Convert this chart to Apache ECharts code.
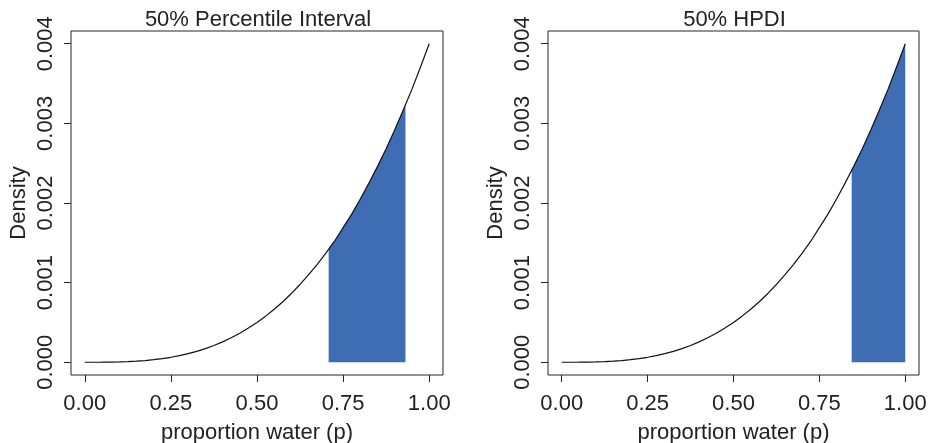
<!DOCTYPE html>
<html>
<head>
<meta charset="utf-8">
<script src="https://cdn.jsdelivr.net/npm/echarts@6/dist/echarts.min.js"></script>
<style>
html,body{margin:0;padding:0;background:#fff;}
#c{width:929px;height:443px;}
</style>
</head>
<body>
<div id="c"></div>
<script>
// Data
const titles = ["50% Percentile Interval", "50% HPDI"];
const xAxisName = "proportion water (p)";
const yAxisName = "Density";
const xTicks = [0, 0.25, 0.5, 0.75, 1.0];
const yTicks = [0, 0.001, 0.002, 0.003, 0.004];

const pGrid = [0, 0.025, 0.05, 0.075, 0.1, 0.125, 0.15, 0.175, 0.2, 0.225, 0.25,
               0.275, 0.3, 0.325, 0.35, 0.375, 0.4, 0.425, 0.45, 0.475, 0.5,
               0.525, 0.55, 0.575, 0.6, 0.625, 0.65, 0.675, 0.7, 0.725, 0.75,
               0.775, 0.8, 0.825, 0.85, 0.875, 0.9, 0.925, 0.95, 0.975, 1.0];
const density = [0, 0.0000001, 0.0000005, 0.0000017, 0.000004, 0.0000078, 0.0000135, 0.0000214, 0.000032, 0.0000456, 0.0000625,
                 0.0000832, 0.000108, 0.000137, 0.000172, 0.000211, 0.000256, 0.000307, 0.000365, 0.000429, 0.0005,
                 0.000579, 0.000666, 0.00076, 0.000864, 0.000977, 0.0011, 0.00123, 0.00137, 0.00152, 0.00169,
                 0.00186, 0.00205, 0.00225, 0.00246, 0.00268, 0.00292, 0.00317, 0.00343, 0.00371, 0.004];

// 50% percentile interval shading
const piP = [0.708, 0.725, 0.75, 0.775, 0.8, 0.825, 0.85, 0.875, 0.9, 0.925, 0.931];
const piD = [0.00142, 0.00152, 0.00169, 0.00186, 0.00205, 0.00225, 0.00246, 0.00268, 0.00292, 0.00317, 0.00323];

// 50% HPDI shading
const hpdiP = [0.844, 0.85, 0.875, 0.9, 0.925, 0.95, 0.975, 1.0];
const hpdiD = [0.00241, 0.00246, 0.00268, 0.00292, 0.00317, 0.00343, 0.00371, 0.004];

const pairs = (xs, ys) => xs.map((x, i) => [x, ys[i]]);

const FONT = "Liberation Sans";
const TXT = "#222";
const LINE = "#262626";
const FILL = "#3e6db4";

const grids = [
  {left: 71, top: 31, width: 372, height: 344},
  {left: 548, top: 31, width: 371, height: 344}
];

function xAx(i) {
  return {
    type: 'value', gridIndex: i, min: -0.04, max: 1.04,
    name: xAxisName, nameLocation: 'middle', nameGap: 47,
    nameTextStyle: {fontFamily: FONT, fontSize: 22, color: TXT},
    axisLine: {show: false, onZero: false},
    splitLine: {show: false},
    axisTick: {show: true, inside: false, length: 7, customValues: xTicks, lineStyle: {color: LINE, width: 1}},
    axisLabel: {customValues: xTicks, margin: 18, fontFamily: FONT, fontSize: 22, color: TXT,
                formatter: v => v.toFixed(2)}
  };
}
function yAx(i) {
  return {
    type: 'value', gridIndex: i, min: -0.00016, max: 0.00416,
    name: yAxisName, nameLocation: 'middle', nameGap: 41,
    nameTextStyle: {fontFamily: FONT, fontSize: 22, color: TXT},
    axisLine: {show: false, onZero: false},
    splitLine: {show: false},
    axisTick: {show: true, inside: false, length: 7, customValues: yTicks, lineStyle: {color: LINE, width: 1}},
    axisLabel: {customValues: yTicks, rotate: 90, margin: 14, fontFamily: FONT, fontSize: 22, color: TXT,
                formatter: v => v.toFixed(3)}
  };
}

const option = {
  backgroundColor: '#fff',
  animation: false,
  title: titles.map((t, i) => ({
    text: t,
    left: grids[i].left + grids[i].width / 2 - 4,
    textAlign: 'center',
    top: 4,
    textStyle: {fontFamily: FONT, fontSize: 22, fontWeight: 'normal', color: TXT}
  })),
  grid: grids.map(g => Object.assign({show: true, borderColor: LINE, borderWidth: 1, backgroundColor: 'transparent',
                                      containLabel: false, outerBoundsMode: 'none'}, g)),
  xAxis: [xAx(0), xAx(1)],
  yAxis: [yAx(0), yAx(1)],
  series: [
    {type: 'line', xAxisIndex: 0, yAxisIndex: 0, data: pairs(piP, piD),
     showSymbol: false, lineStyle: {width: 0}, areaStyle: {color: FILL, opacity: 1, origin: 0}, z: 1},
    {type: 'line', xAxisIndex: 1, yAxisIndex: 1, data: pairs(hpdiP, hpdiD),
     showSymbol: false, lineStyle: {width: 0}, areaStyle: {color: FILL, opacity: 1, origin: 0}, z: 1},
    {type: 'line', xAxisIndex: 0, yAxisIndex: 0, data: pairs(pGrid, density),
     showSymbol: false, lineStyle: {color: '#111', width: 1.2}, z: 3},
    {type: 'line', xAxisIndex: 1, yAxisIndex: 1, data: pairs(pGrid, density),
     showSymbol: false, lineStyle: {color: '#111', width: 1.2}, z: 3}
  ]
};

const chart = echarts.init(document.getElementById('c'), null, {renderer: 'canvas'});
chart.setOption(option);
</script>
</body>
</html>
